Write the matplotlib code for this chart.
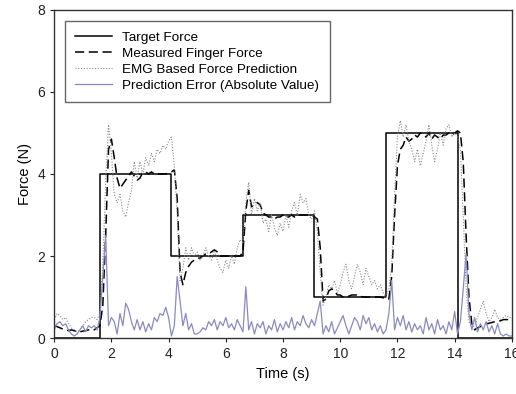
import numpy as np
import matplotlib.pyplot as plt

plt.rcParams['font.family'] = ['Liberation Sans', 'DejaVu Sans']

# ---------------- DATA ----------------
# sample times for measured force, EMG prediction and error (0.1 s step)
t = np.round(np.arange(0, 16.01, 0.1), 2)

# target force (step levels, held until next change)
t_steps = [0, 1.6, 4.1, 6.6, 9.1, 11.6, 14.1, 16]
target = [0, 4, 2, 3, 1, 5, 0, 0]

measured = [
    0.30, 0.28, 0.25, 0.22, 0.20, 0.18, 0.20, 0.18, 0.15, 0.15,
    0.17, 0.18, 0.20, 0.18, 0.20, 0.25, 0.30, 0.80, 2.50, 4.60,
    4.85, 4.40, 3.90, 3.65, 3.75, 3.85, 3.95, 4.05, 3.95, 3.85,
    3.90, 4.05, 4.05, 4.00, 4.05, 4.00, 4.00, 4.00, 4.00, 4.00,
    4.02, 4.05, 4.10, 3.40, 1.60, 1.30, 1.60, 1.75, 1.85, 1.90,
    1.95, 1.95, 2.00, 2.05, 2.05, 2.10, 2.15, 2.10, 2.00, 2.00,
    2.00, 2.00, 1.98, 2.00, 2.00, 2.00, 2.10, 3.10, 3.60, 3.20,
    3.25, 3.30, 3.25, 3.05, 3.00, 2.95, 2.95, 2.90, 2.95, 2.95,
    3.00, 2.95, 2.95, 3.00, 2.95, 3.00, 3.00, 3.00, 3.00, 3.00,
    3.00, 2.95, 2.90, 2.20, 0.90, 0.95, 1.15, 1.20, 1.15, 1.05,
    1.05, 1.00, 1.00, 1.02, 1.05, 1.05, 1.05, 1.02, 1.00, 1.00,
    1.00, 1.00, 1.00, 1.00, 1.00, 0.98, 0.95, 0.95, 1.50, 3.00,
    4.20, 4.60, 4.70, 4.90, 4.80, 4.85, 4.95, 4.90, 5.00, 4.95,
    4.90, 5.00, 4.85, 4.95, 4.90, 4.85, 4.95, 4.95, 5.00, 4.95,
    5.00, 5.05, 5.00, 4.30, 2.50, 1.00, 0.35, 0.20, 0.25, 0.28,
    0.32, 0.35, 0.36, 0.38, 0.40, 0.42, 0.42, 0.45, 0.45, 0.45,
    0.42,
]

emg = [
    0.45, 0.60, 0.55, 0.45, 0.50, 0.35, 0.25, 0.20, 0.15, 0.20,
    0.30, 0.40, 0.45, 0.50, 0.50, 0.45, 0.60, 1.80, 3.80, 5.20,
    4.50, 3.50, 3.30, 3.50, 3.10, 2.95, 3.30, 3.60, 4.30, 3.90,
    4.30, 4.00, 4.40, 4.20, 4.50, 4.30, 4.60, 4.50, 4.70, 4.60,
    4.80, 4.90, 4.20, 3.00, 1.40, 1.70, 2.20, 1.90, 2.20, 2.00,
    2.10, 1.90, 2.00, 2.20, 2.00, 1.90, 2.10, 1.90, 1.70, 1.60,
    1.90, 1.70, 2.00, 1.80, 2.20, 2.40, 2.30, 3.30, 3.80, 3.00,
    3.40, 3.10, 3.30, 2.80, 2.90, 2.60, 3.00, 2.70, 2.50, 2.80,
    2.60, 3.00, 2.70, 3.10, 3.30, 3.00, 3.50, 3.30, 3.40, 3.00,
    2.90, 3.10, 2.60, 1.60, 0.80, 1.00, 1.30, 1.20, 1.40, 1.10,
    1.30, 1.60, 1.80, 1.40, 1.20, 1.50, 1.80, 1.60, 1.30, 1.70,
    1.50, 1.30, 1.40, 1.20, 1.30, 1.10, 1.00, 1.20, 1.80, 3.50,
    4.90, 5.30, 4.90, 5.20, 4.80, 4.60, 4.30, 4.60, 4.20, 4.50,
    4.80, 5.20, 4.70, 4.30, 4.60, 5.00, 4.70, 5.10, 5.20, 4.90,
    5.00, 4.90, 4.60, 3.00, 1.20, 0.40, 0.25, 0.30, 0.50, 0.70,
    0.90, 0.60, 0.40, 0.50, 0.70, 0.50, 0.45, 0.50, 0.55, 0.50,
    0.50,
]

error = [
    0.20, 0.35, 0.40, 0.30, 0.35, 0.20, 0.10, 0.05, 0.10, 0.20,
    0.30, 0.15, 0.30, 0.25, 0.30, 0.20, 0.50, 1.50, 2.50, 0.30,
    0.50, 0.40, 0.10, 0.60, 0.30, 0.85, 0.70, 0.40, 0.20, 0.45,
    0.20, 0.40, 0.15, 0.35, 0.20, 0.50, 0.40, 0.60, 0.55, 0.75,
    0.50, 0.05, 0.30, 1.50, 0.90, 0.30, 0.60, 0.20, 0.35, 0.10,
    0.10, 0.15, 0.25, 0.20, 0.40, 0.30, 0.45, 0.20, 0.40, 0.30,
    0.50, 0.25, 0.35, 0.20, 0.45, 0.30, 0.15, 1.25, 0.20, 0.40,
    0.10, 0.35, 0.25, 0.40, 0.10, 0.30, 0.20, 0.45, 0.15, 0.35,
    0.20, 0.40, 0.25, 0.50, 0.20, 0.40, 0.30, 0.55, 0.35, 0.25,
    0.45, 0.30, 0.60, 0.90, 0.10, 0.30, 0.15, 0.40, 0.10, 0.25,
    0.40, 0.55, 0.30, 0.10, 0.30, 0.50, 0.40, 0.20, 0.55, 0.35,
    0.50, 0.20, 0.35, 0.15, 0.30, 0.10, 0.20, 0.60, 1.40, 0.20,
    0.50, 0.30, 0.55, 0.20, 0.40, 0.15, 0.35, 0.20, 0.30, 0.10,
    0.50, 0.20, 0.35, 0.10, 0.45, 0.20, 0.30, 0.10, 0.40, 0.20,
    0.65, 0.10, 0.40, 1.20, 2.05, 0.60, 0.20, 0.50, 0.15, 0.35,
    0.20, 0.40, 0.15, 0.30, 0.10, 0.35, 0.10, 0.05, 0.10, 0.05,
    0.05,
]

# ---------------- PLOT ----------------
fig = plt.figure(figsize=(5.16, 3.94), dpi=100)
ax = fig.add_axes([0.105, 0.142, 0.887, 0.833])

ax.plot(t_steps, target, drawstyle='steps-post', color='black', lw=1.1,
        label='Target Force')
ax.plot(t, measured, color='black', lw=1.1, ls=(0, (6, 3)),
        label='Measured Finger Force')
ax.plot(t, emg, color='#888888', lw=0.8, ls=(0, (1, 1.5)),
        label='EMG Based Force Prediction')
ax.plot(t, error, color='#8a8ac0', lw=0.9,
        label='Prediction Error (Absolute Value)')

ax.set_xlim(0, 16)
ax.set_ylim(0, 8)
ax.set_xticks(range(0, 17, 2))
ax.set_yticks(range(0, 9, 2))
ax.tick_params(direction='out', length=3, labelsize=10, colors='#222222')
for s in ax.spines.values():
    s.set_color('#333333')
    s.set_linewidth(1.0)

ax.set_xlabel('Time (s)', fontsize=10.5)
ax.set_ylabel('Force (N)', fontsize=10.5)

leg = ax.legend(loc='upper left', bbox_to_anchor=(0.024, 0.966), fontsize=9.7,
                handlelength=2.7, labelspacing=0.28, fancybox=False,
                edgecolor='#666666', framealpha=1, borderpad=0.75,
                borderaxespad=0)
leg.get_frame().set_linewidth(1.0)

fig.savefig('out.png', dpi=100)
